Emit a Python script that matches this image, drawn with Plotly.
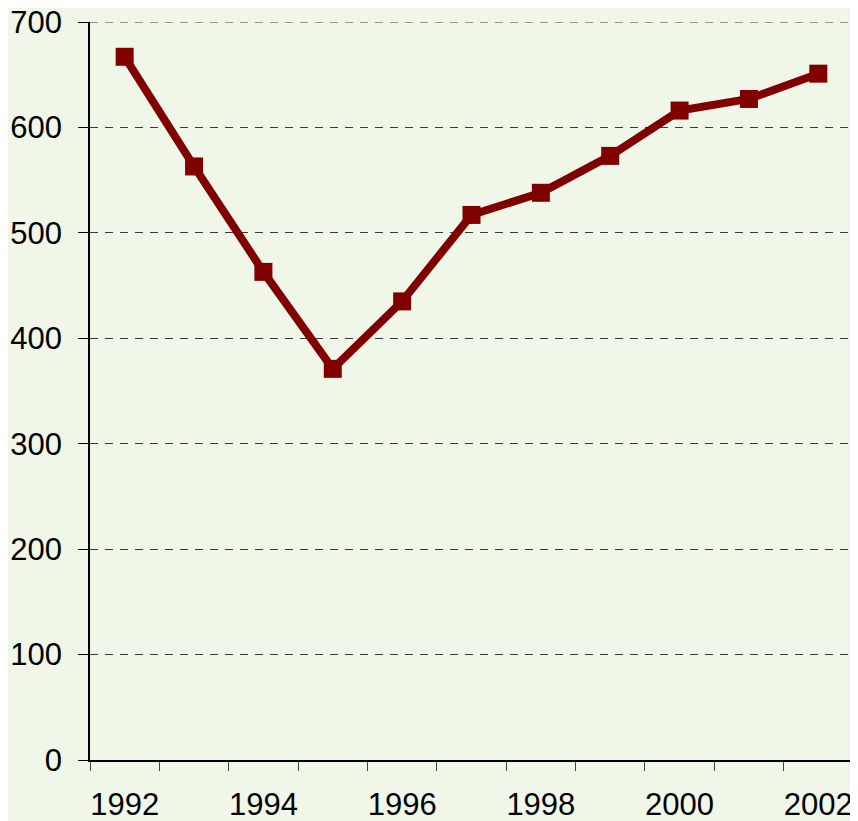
import plotly.graph_objects as go

years = [str(y) for y in range(1992, 2003)]
values = [667, 563, 463, 371, 435, 517, 538, 573, 616, 627, 651]
tick_labels = ["1992", "", "1994", "", "1996", "", "1998", "", "2000", "", "2002"]
y_ticks = [0, 100, 200, 300, 400, 500, 600, 700]

bg = "#F0F7E9"
font = dict(family="Liberation Sans, Arial, sans-serif", size=31, color="#000000")

fig = go.Figure()
fig.add_trace(go.Scatter(
    x=years, y=values, mode="lines+markers",
    line=dict(color="#800000", width=8),
    marker=dict(symbol="square", size=18, color="#800000"),
    showlegend=False, hoverinfo="skip", cliponaxis=False,
))

fig.update_layout(
    width=850, height=813,
    margin=dict(l=82, r=5, t=14, b=61, autoexpand=False),
    paper_bgcolor=bg, plot_bgcolor=bg,
    font=font,
)
fig.add_shape(type="line", xref="paper", x0=0, x1=1, yref="y", y0=700, y1=700,
              line=dict(color="#3a3a3a", width=1, dash="8px,7px"), layer="below")
fig.update_xaxes(
    type="category", tickson="boundaries", range=[-0.5, 10.5],
    tickmode="array", tickvals=years, ticktext=tick_labels, tickangle=0,
    ticks="outside", ticklen=9, tickcolor="#444444", tickwidth=1,
    showline=True, linecolor="#000000", linewidth=1.5,
    showgrid=False, tickfont=font, automargin=False, ticklabelstandoff=16,
    ticklabeloverflow="allow",
)
fig.update_yaxes(
    range=[0, 700], tickmode="array", tickvals=y_ticks,
    ticks="outside", ticklen=10, tickcolor="#000000", tickwidth=1,
    showline=True, linecolor="#000000", linewidth=1.5, mirror=True,
    showgrid=True, gridcolor="#3a3a3a", gridwidth=1, griddash="8px,7px",
    zeroline=False, tickfont=font, automargin=False, ticklabelstandoff=10,
    ticklabeloverflow="allow",
)

fig.write_html("out.html")
